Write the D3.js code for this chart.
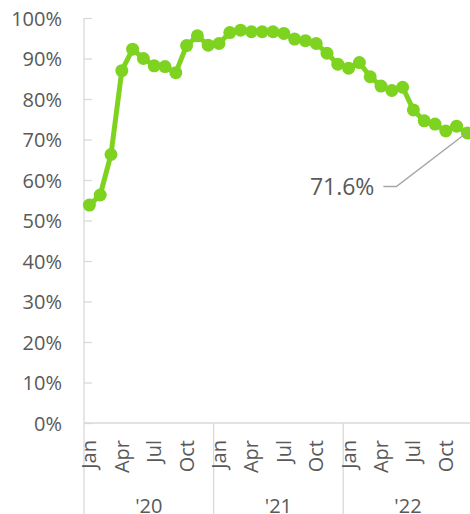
<!DOCTYPE html>
<html><head><meta charset="utf-8">
<script src="https://cdn.jsdelivr.net/npm/d3@7"></script>
<style>body{margin:0;background:#fff}svg{display:block}text{font-family:"Open Sans",sans-serif;fill:#595959}</style>
</head><body>
<svg id="c" width="470" height="514"></svg>
<script>
const years = ["'20", "'21", "'22"];
const monthNames = ["Jan","Feb","Mar","Apr","May","Jun","Jul","Aug","Sep","Oct","Nov","Dec"];
const shownMonths = ["Jan","Apr","Jul","Oct"];
const values = [
  53.8, 56.3, 66.3, 87.0, 92.3, 90.0, 88.2, 88.0, 86.5, 93.2, 95.6, 93.3,
  93.7, 96.4, 97.0, 96.6, 96.6, 96.6, 96.2, 94.8, 94.4, 93.7, 91.3, 88.6,
  87.6, 89.0, 85.5, 83.2, 82.1, 82.9, 77.3, 74.6, 73.8, 72.1, 73.3, 71.6
];
const yTicks = [0,10,20,30,40,50,60,70,80,90,100];
const lastLabel = "71.6%";

const data = values.map((v,i)=>({key: years[Math.floor(i/12)]+"-"+monthNames[i%12], year: years[Math.floor(i/12)], month: monthNames[i%12], v}));

const svg = d3.select("#c");
const left = 84, axisY = 423, topY = 18, monthW = 10.8;
const x = d3.scaleBand().domain(data.map(d=>d.key)).range([left, left + data.length*monthW]).padding(0);
const y = d3.scaleLinear().domain([0,100]).range([axisY, topY]);
const grey = "#d9d9d9";

// y axis
const yAxis = d3.axisLeft(y).tickValues(yTicks).tickFormat(d=>d+"%").tickSize(-8).tickPadding(22);
const ga = svg.append("g").attr("transform",`translate(${left},0)`).call(yAxis);
ga.select(".domain").attr("stroke",grey).attr("stroke-width",1.3).attr("d",`M-8,${topY}H0V${axisY}`);
ga.selectAll(".tick line").attr("stroke",grey).attr("stroke-width",1.3);
ga.selectAll(".tick text").style("font-size","20px").style("fill","#595959").attr("font-family","Open Sans").attr("dy","0.36em");
ga.select(".domain").attr("d",`M0,${topY}V${axisY}`);

// x axis line
svg.append("line").attr("x1",left).attr("x2",470).attr("y1",axisY).attr("y2",axisY).attr("stroke",grey).attr("stroke-width",1.3);
// year separators
years.forEach((yr,k)=>{
  const x0 = x(yr+"-Jan");
  svg.append("line").attr("x1",x0).attr("x2",x0).attr("y1",axisY).attr("y2",514).attr("stroke",grey).attr("stroke-width",1.3);
  const x1 = x(yr+"-Dec")+x.bandwidth();
  svg.append("text").attr("x",(x0+x1)/2).attr("y",513).attr("text-anchor","middle").style("font-size","20px").text(yr);
});
// month labels
data.filter(d=>shownMonths.includes(d.month)).forEach(d=>{
  const cx = x(d.key)+x.bandwidth()/2;
  svg.append("text").attr("transform",`translate(${cx+7},440) rotate(-90)`).attr("text-anchor","end").style("font-size","20px").text(d.month);
});

// line
const green = "#7ed321";
const line = d3.line().x(d=>x(d.key)+x.bandwidth()/2).y(d=>y(d.v));
svg.append("path").datum(data).attr("d",line).attr("fill","none").attr("stroke",green).attr("stroke-width",5).attr("stroke-linejoin","round");
svg.selectAll("circle.pt").data(data).enter().append("circle").attr("class","pt")
  .attr("cx",d=>x(d.key)+x.bandwidth()/2).attr("cy",d=>y(d.v)).attr("r",6.5).attr("fill",green);

// annotation
const last = data[data.length-1];
const lx = x(last.key)+x.bandwidth()/2, ly = y(last.v);
svg.append("path").attr("d",`M${lx-84},${ly+53.5}H${lx-71}L${lx-1},${ly}`).attr("fill","none").attr("stroke","#a6a6a6").attr("stroke-width",1.5);
svg.append("text").attr("x",lx-93).attr("y",ly+62).attr("text-anchor","end").style("font-size","23px").text(lastLabel);
</script>
</body></html>
